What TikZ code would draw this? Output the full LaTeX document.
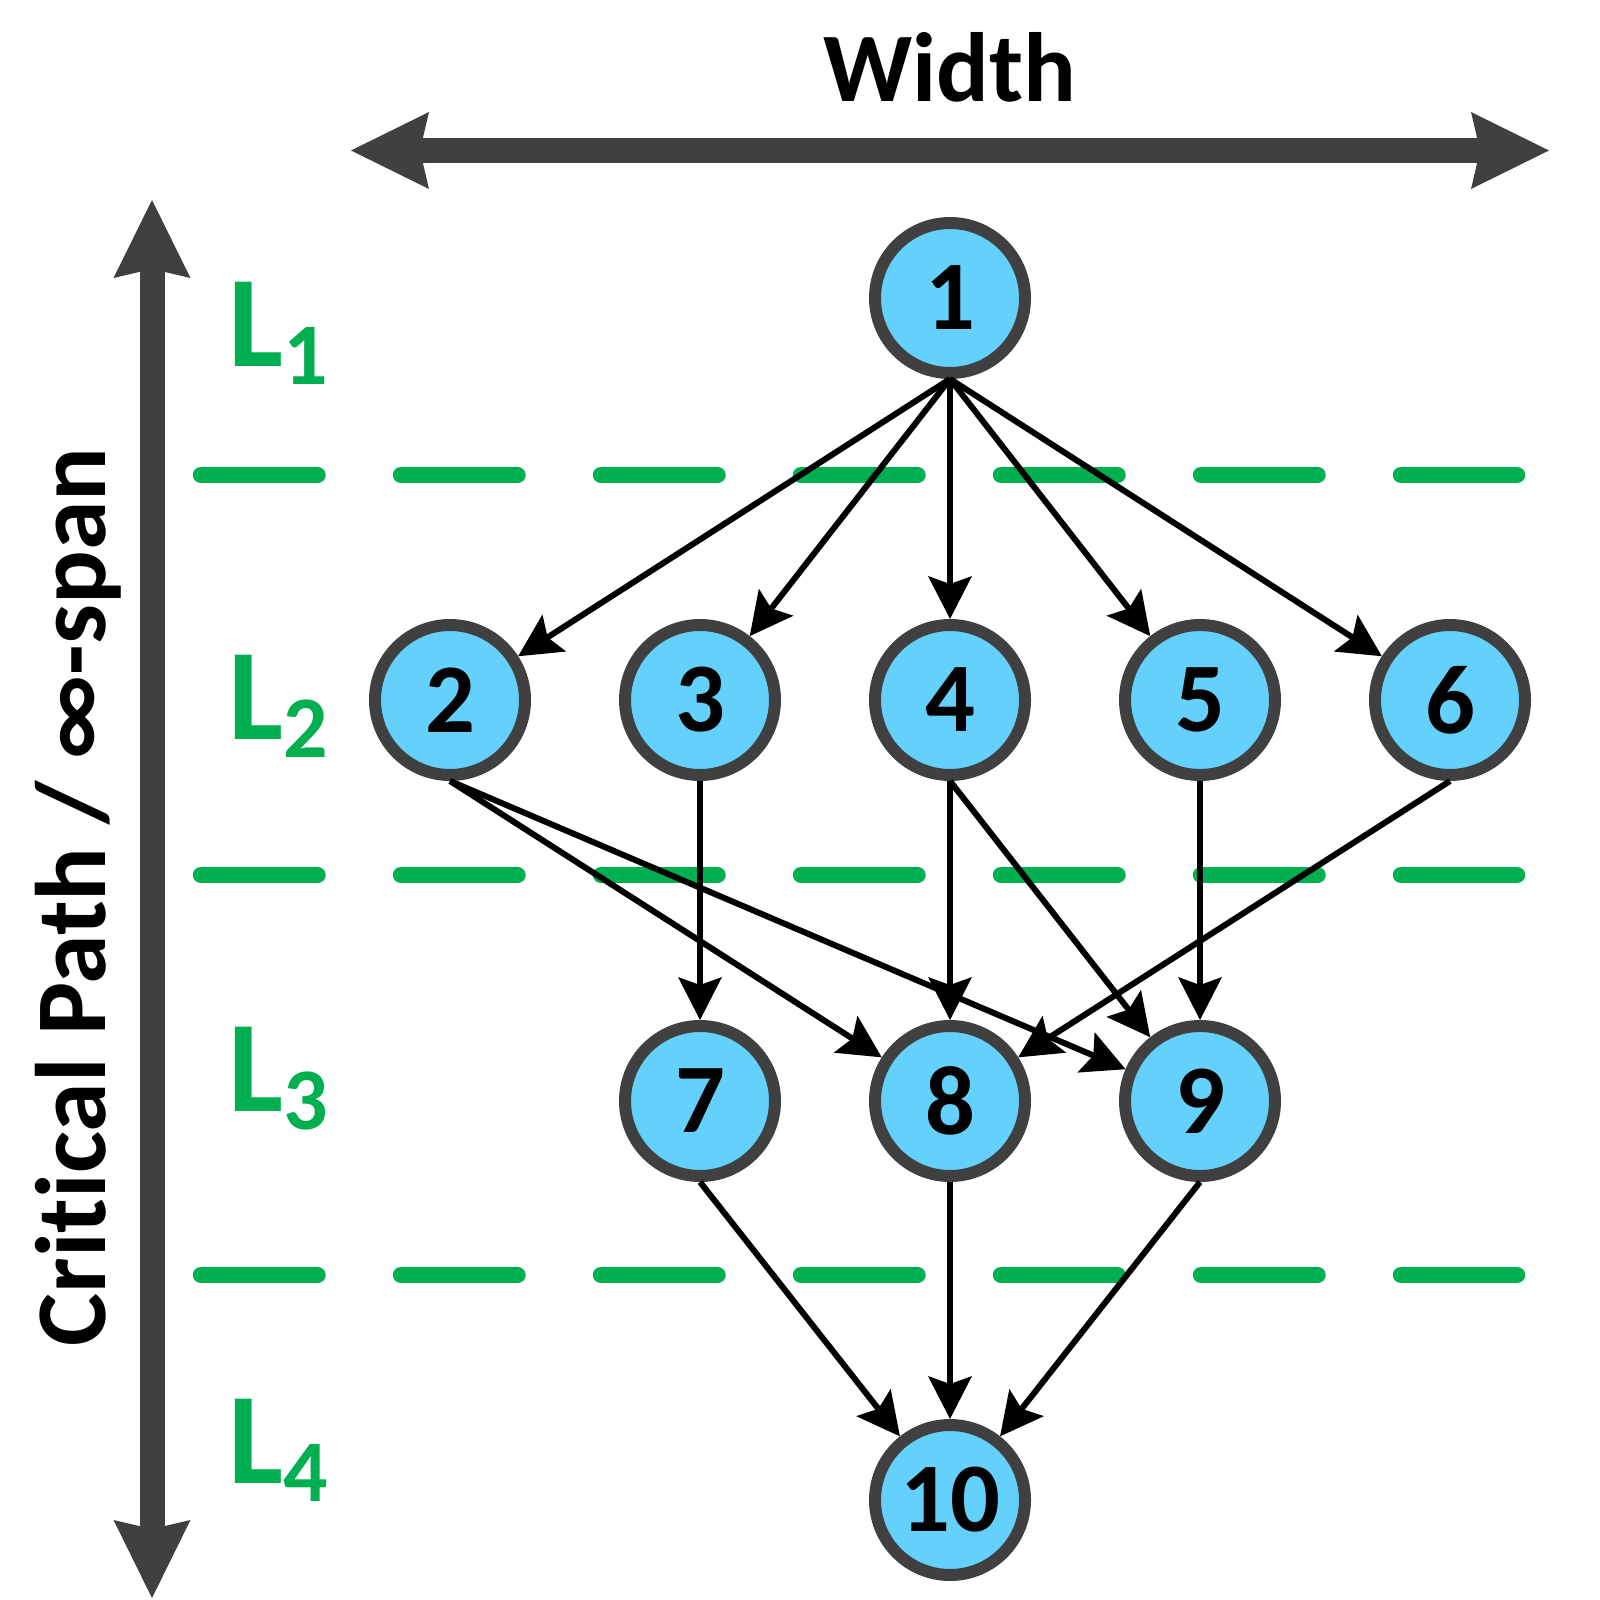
\documentclass[tikz,border=0pt]{standalone}
\usepackage{fontspec}
\setmainfont{Carlito}[Ligatures=NoCommon]
\usetikzlibrary{arrows.meta}
\definecolor{taskblue}{RGB}{99,209,251}
\definecolor{edgegray}{RGB}{64,64,64}
\definecolor{levelgreen}{RGB}{0,176,80}

\begin{document}
\begin{tikzpicture}[
        task/.style={circle, draw=edgegray, line width=0.12cm, fill=taskblue, minimum size=1.5cm, inner sep=0pt, font=\fontsize{28}{28}\selectfont\bfseries},
        dep/.style={draw, line width=0.06cm, -{Stealth[length=0.43cm, width=0.44cm, inset=0.08cm, line width=0pt]}},
        axis/.style={draw=edgegray, line width=0.25cm, {Stealth[length=0.78cm, width=0.77cm, inset=0.09cm, line width=0pt]}-{Stealth[length=0.78cm, width=0.77cm, inset=0.09cm, line width=0pt]}},
        level sep/.style={draw=levelgreen, line width=0.165cm, line cap=round, dash pattern=on 1.165cm off 0.835cm},
        level label/.style={anchor=base west, inner sep=0pt, text=levelgreen, font=\bfseries},
        axis label/.style={inner sep=0pt, font=\fontsize{28}{28}\selectfont\bfseries}
    ]
    \useasboundingbox (0,0) rectangle (16,-16);
    \foreach \y in {4.75, 8.75, 12.75}
        \draw[level sep] (2.01,-\y) -- (15.17,-\y);
    \foreach \i/\y in {1/3.67, 2/7.39, 3/11.11, 4/14.83}
        \node[level label] (L\i) at (2.28,-\y) {\fontsize{37}{37}\selectfont L\raisebox{-0.18cm}{\fontsize{25}{25}\selectfont\i}};

    \coordinate (wl) at (3.51,-1.505);
    \coordinate (wr) at (15.49,-1.505);
    \draw[axis] (wl) -- (wr);
    \node[axis label, anchor=base] (width) at (9.50,-1.02) {Width};
    \coordinate (ct) at (1.52,-2.00);
    \coordinate (cb) at (1.52,-15.98);
    \draw[axis] (ct) -- (cb);
    \node[axis label, rotate=90, anchor=base, font=\fontsize{28.5}{28.5}\selectfont\bfseries] (span) at (1.05,-8.97) {Critical Path / ∞-span};

    \node[task] (n1) at (9.50,-2.98) {1};
    \foreach \i/\x in {2/4.5, 3/7, 4/9.5, 5/12, 6/14.5}
        \node[task] (n\i) at (\x,-7.00) {\i};
    \foreach \i/\x in {7/7, 8/9.5, 9/12}
        \node[task] (n\i) at (\x,-11.01) {\i};
    \node[task] (n10) at (9.50,-15.00) {10};

    \foreach \s/\t in {1/2, 1/3, 1/4, 1/5, 1/6, 2/8, 2/9, 3/7, 4/8, 4/9, 5/9, 6/8, 7/10, 8/10, 9/10}
        \draw[dep] (n\s.south) -- (n\t);
\end{tikzpicture}
\end{document}
